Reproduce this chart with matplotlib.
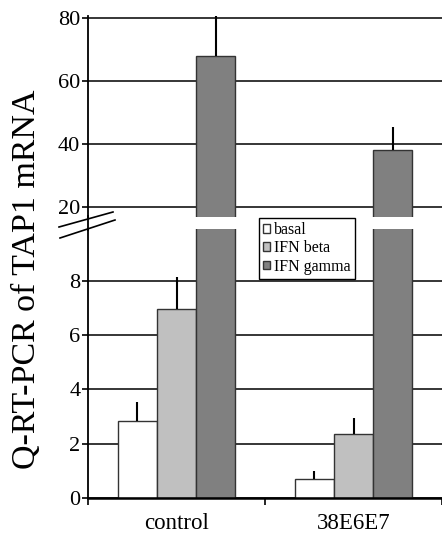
import numpy as np
import matplotlib
matplotlib.use('Agg')
import matplotlib.pyplot as plt
from matplotlib.lines import Line2D

plt.rcParams['font.family'] = ['Liberation Serif', 'DejaVu Serif']

# data
groups = ['control', '38E6E7']
series = ['basal', 'IFN beta', 'IFN gamma']
basal = [2.84, 0.69]
basal_err = [0.68, 0.31]
beta = [6.96, 2.35]
beta_err = [1.16, 0.60]
gamma = [67.8, 38.0]
gamma_err = [13.1, 7.4]
low_ticks = [0, 2, 4, 6, 8]
high_ticks = [20, 40, 60, 80]

colors = ['#ffffff', '#c0c0c0', '#808080']
W, H = 442, 541

def fx(px):
    return px / W

def fy(py):
    return 1 - py / H

fig = plt.figure(figsize=(W / 100, H / 100), dpi=100)
ax_top = fig.add_axes([fx(88), fy(217), fx(442) - fx(88), fy(16) - fy(217)])
ax_bot = fig.add_axes([fx(88), fy(498), fx(442) - fx(88), fy(229) - fy(498)])

x = np.arange(len(groups))
w = 0.221
vals = [basal, beta, gamma]
errs = [basal_err, beta_err, gamma_err]

handles = []
for ax in (ax_top, ax_bot):
    for i, (v, e) in enumerate(zip(vals, errs)):
        pos = x + (i - 1) * w
        b = ax.bar(pos, v, w, color=colors[i], edgecolor='#333333', linewidth=1, zorder=2)
        ax.errorbar(pos, v, yerr=[np.zeros(len(e)), e], fmt='none', ecolor='black',
                    elinewidth=1.5, capsize=0, zorder=3)
        if ax is ax_bot:
            handles.append(b)
    ax.set_xlim(-0.5, 1.5)
    ax.set_axisbelow(True)
    ax.yaxis.grid(True, color='black', linewidth=1.1)
    for s in ('top', 'right'):
        ax.spines[s].set_visible(False)
    ax.spines['left'].set_linewidth(1.3)
    ax.tick_params(axis='y', direction='out', length=4, width=1.2, labelsize=16, pad=1.5)

ax_top.set_ylim(16.8, 80.5)
ax_top.set_yticks(high_ticks)
ax_top.spines['bottom'].set_visible(False)
ax_top.tick_params(axis='x', bottom=False, labelbottom=False)

ax_bot.set_ylim(0, 9.9)
ax_bot.set_yticks(low_ticks)
ax_bot.spines['bottom'].set_linewidth(1.8)
ax_bot.set_xticks(x)
ax_bot.set_xticklabels(groups, fontsize=16.5)
ax_bot.set_xticks([-0.5, 0.5, 1.5], minor=True)
ax_bot.tick_params(axis='x', which='major', length=0, pad=11)
ax_bot.tick_params(axis='x', which='minor', length=5, width=1.2, direction='out')

# spine through the gap and break marks
fig.add_artist(Line2D([fx(88), fx(88)], [fy(216), fy(230)], color='black', linewidth=1.3))
fig.add_artist(Line2D([fx(59), fx(113)], [fy(227), fy(212)], color='black', linewidth=1.2))
fig.add_artist(Line2D([fx(60), fx(115)], [fy(238), fy(220)], color='black', linewidth=1.2))

fig.text(fx(27), fy(279), 'Q-RT-PCR of TAP1 mRNA', rotation=90, fontsize=24.5,
         ha='center', va='center')

leg = fig.legend(handles, series, loc='upper left', bbox_to_anchor=(fx(259), fy(218)),
                 fontsize=11.5, frameon=True, fancybox=False, edgecolor='black',
                 framealpha=1, handlelength=0.45, handleheight=0.45, handletextpad=0.25,
                 labelspacing=0.15, borderpad=0.25, borderaxespad=0)
leg.get_frame().set_linewidth(1.0)

fig.savefig('out.png', dpi=100)
